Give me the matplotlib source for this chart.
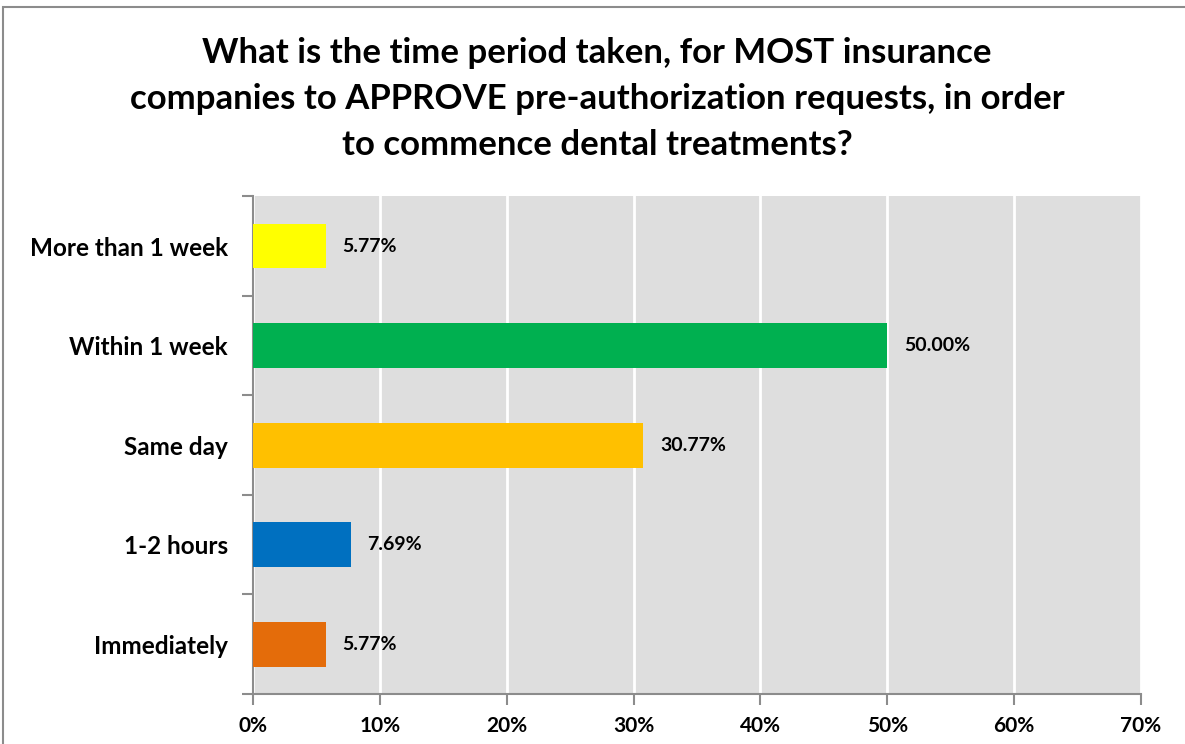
import matplotlib
matplotlib.use("Agg")
import matplotlib.pyplot as plt
from matplotlib.patches import Rectangle
from matplotlib.ticker import MultipleLocator, PercentFormatter, FixedLocator, NullFormatter

categories = ["Immediately", "1-2 hours", "Same day", "Within 1 week", "More than 1 week"]
values = [5.77, 7.69, 30.77, 50.00, 5.77]
colors = ["#E46C0A", "#0070C0", "#FFC000", "#00B050", "#FFFF00"]
title = ("What is the time period taken, for MOST insurance\n"
         "companies to APPROVE pre-authorization requests, in order\n"
         "to commence dental treatments?")


def main():
    plt.rcParams['font.family'] = ['Lato', 'DejaVu Sans']
    fig = plt.figure(figsize=(11.85, 7.44), dpi=100)
    ax = fig.add_axes([0.2135, 0.0672, 0.7494, 0.669])

    # outer chart border
    fig.patches.append(Rectangle((3 / 1185, -0.1), 1.2, 1.1 - 7 / 744,
                                 transform=fig.transFigure, fill=False,
                                 edgecolor="#8C8C8C", linewidth=1.5))

    y = range(len(categories))
    ax.barh(y, values, height=0.45, color=colors, zorder=3)
    for i, v in enumerate(values):
        ax.text(v + 1.3, i, f"{v:.2f}%", va="center", ha="left",
                fontsize=14, fontweight="bold", zorder=4)

    ax.set_xlim(0, 70)
    ax.set_ylim(-0.5, len(categories) - 0.5)
    ax.set_facecolor("#DEDEDE")
    ax.xaxis.set_major_locator(MultipleLocator(10))
    ax.xaxis.set_major_formatter(PercentFormatter(decimals=0))
    ax.grid(axis="x", color="white", linewidth=2, zorder=1)

    ax.yaxis.set_major_locator(FixedLocator([i - 0.5 for i in range(len(categories) + 1)]))
    ax.yaxis.set_major_formatter(NullFormatter())
    ax.yaxis.set_minor_locator(FixedLocator(list(y)))
    ax.set_yticklabels(categories, minor=True)
    ax.tick_params(axis="y", which="minor", length=0, pad=18, labelsize=17.5)
    ax.tick_params(axis="y", which="major", length=8, color="#8C8C8C", width=1.5)
    ax.tick_params(axis="x", length=8, color="#8C8C8C", width=1.5, labelsize=15, pad=8)
    for lbl in ax.get_xticklabels() + ax.get_yticklabels(minor=True):
        lbl.set_fontweight("bold")

    for side in ["top", "right"]:
        ax.spines[side].set_visible(False)
    for side in ["left", "bottom"]:
        ax.spines[side].set_color("#8C8C8C")
        ax.spines[side].set_linewidth(1.5)

    fig.text(0.504, 1 - 99 / 744, title, ha="center", va="center", fontsize=25,
             fontweight="bold", linespacing=1.55)

    plt.savefig("out.png", dpi=100)
    plt.close()


if __name__ == '__main__':
    main()
